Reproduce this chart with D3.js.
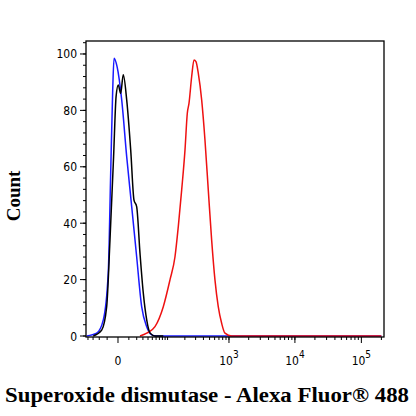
<!DOCTYPE html><html><head><meta charset="utf-8">
<script src="https://cdn.jsdelivr.net/npm/d3@7"></script>
<style>body{margin:0;background:#fff}</style></head><body><svg id="c" width="416" height="416"></svg>
<script>
const blueX=[-42.9,-23.9,-14.5,-8.8,-6.3,-4.4,-3.2,-0.7,3.0,7.7,13.3,19.9,27.8,37.3,48.5,61.7,200000];
const blueY=[0,1,5.7,22.3,57.8,87.2,98.5,95.5,83.7,63.6,45.9,28.1,10.4,3.3,0.4,0,0];
const blackX=[-29.6,-16.6,-10.5,-7.0,-3.6,-1.5,0.2,2.1,4.4,7.7,12.1,16.2,19.9,25.0,30.7,37.3,44.4,56.9,83.2];
const blackY=[0,2.1,10.4,34,63.6,84.9,89,86,92.6,83.7,66,48.2,45.9,29.4,15.2,5.7,1.1,0,0];
const redX=[25,37.3,56.9,83.2,110.6,135.7,154.8,176.8,201,219.5,234,259,282.5,304,331,375,423,477,539,607,683,771,868,1100,200000];
const redY=[0,1,3.3,10.4,19.9,28.1,38.8,51.8,66,79,82.5,92,97.9,97.3,93.2,83.7,69.5,51.8,34,19.9,10.4,4.5,1,0,0];
const yTicks=[0,20,40,60,80,100];
const xMajor=[0,1000,10000,100000];
const xLabels=["0","3","4","5"];
const svg=d3.select("#c");
const L=86,R=384,T=41,B=337;
const x=d3.scaleSymlog().constant(21.9).domain([-44.4,219000]).range([L,R]);
const y=d3.scaleLinear().domain([0,104.6]).range([B-1,T]);
const line=d3.line().x(d=>x(d[0])).y(d=>y(d[1])).curve(d3.curveMonotoneX);
[[blueX,blueY,"#1a1aff"],[redX,redY,"#ee1111"],[blackX,blackY,"#000"]].forEach(s=>{
 svg.append("path").attr("d",line(s[0].map((v,i)=>[v,s[1][i]]))).attr("fill","none").attr("stroke",s[2]).attr("stroke-width",1.5);
});
svg.append("rect").attr("x",L).attr("y",T).attr("width",R-L).attr("height",B-T).attr("fill","none").attr("stroke","#000").attr("stroke-width",1.3);
const yMinor=d3.range(0,105,4);
yMinor.forEach(v=>svg.append("line").attr("x1",L-3).attr("x2",L).attr("y1",y(v)).attr("y2",y(v)).attr("stroke","#000"));
yTicks.forEach(v=>{
 svg.append("line").attr("x1",L-6).attr("x2",L).attr("y1",y(v)).attr("y2",y(v)).attr("stroke","#000");
 svg.append("text").attr("x",L-9).attr("y",y(v)+4.5).attr("text-anchor","end").attr("font-family","DejaVu Sans Condensed, DejaVu Sans").attr("font-size",12).text(v);
});
let xm=[];
[-10,-20,-30,-40].forEach(v=>xm.push(v));
for(let d=10;d<=10000;d*=10)for(let k=1;k<=9;k++)xm.push(k*d);
xm.push(200000);
xm.forEach(v=>{if(v<=219000)svg.append("line").attr("x1",x(v)).attr("x2",x(v)).attr("y1",B).attr("y2",B+3).attr("stroke","#000");});
xMajor.forEach((v,i)=>{
 svg.append("line").attr("x1",x(v)).attr("x2",x(v)).attr("y1",B).attr("y2",B+6).attr("stroke","#000");
 const t=svg.append("text").attr("x",x(v)).attr("y",B+28).attr("text-anchor","middle").attr("font-family","DejaVu Sans Condensed, DejaVu Sans").attr("font-size",12);
 if(i==0)t.text("0");else{t.append("tspan").text("10");t.append("tspan").attr("dy",-7).attr("font-size",10).text(xLabels[i]);}
});
svg.append("text").attr("x",207).attr("y",402).attr("text-anchor","middle").attr("font-family","Liberation Serif").attr("font-weight","bold").attr("font-size",20).attr("textLength",404).attr("lengthAdjust","spacingAndGlyphs").text("Superoxide dismutase - Alexa Fluor® 488");
svg.append("text").attr("transform","translate(20,196) rotate(-90)").attr("text-anchor","middle").attr("font-family","Liberation Serif").attr("font-weight","bold").attr("font-size",19).text("Count");
</script></body></html>
